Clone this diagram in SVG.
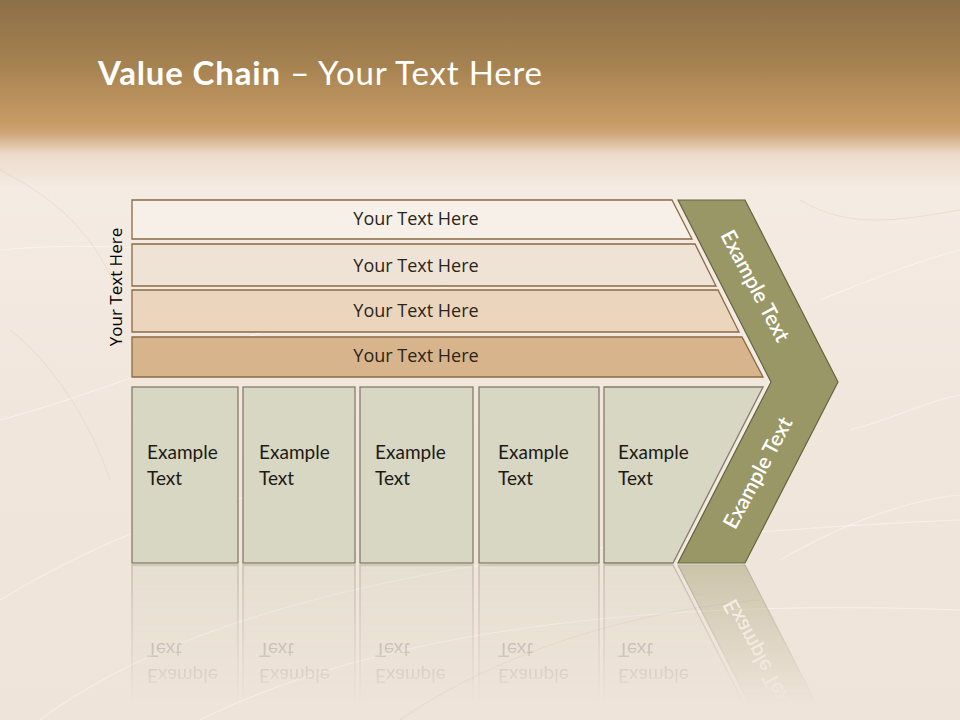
<svg xmlns="http://www.w3.org/2000/svg" width="960" height="720" viewBox="0 0 960 720">
<defs>
<linearGradient id="bg" x1="0" y1="0" x2="0" y2="720" gradientUnits="userSpaceOnUse">
<stop offset="0" stop-color="#8d6f48"/>
<stop offset="0.09" stop-color="#a58251"/>
<stop offset="0.17" stop-color="#c89b64"/>
<stop offset="0.185" stop-color="#cfa677"/>
<stop offset="0.215" stop-color="#ecdccb"/>
<stop offset="0.26" stop-color="#f4ebe2"/>
<stop offset="0.6" stop-color="#f1e6dc"/>
<stop offset="1" stop-color="#efe4da"/>
</linearGradient>
<linearGradient id="fade" x1="0" y1="565" x2="0" y2="705" gradientUnits="userSpaceOnUse">
<stop offset="0" stop-color="#fff" stop-opacity="0.42"/>
<stop offset="1" stop-color="#fff" stop-opacity="0"/>
</linearGradient>
<mask id="reflMask" maskUnits="userSpaceOnUse" x="0" y="560" width="960" height="160">
<rect x="0" y="560" width="960" height="160" fill="url(#fade)"/>
</mask>
<style>
.bar{stroke:#8b6a45;stroke-width:1.3}
.box{fill:#d8d7c3;stroke:#857c6c;stroke-width:1.3}
.chev{fill:#999766;stroke:#66643f;stroke-width:1.2}
.bt{font-family:"Open Sans","DejaVu Sans",sans-serif;font-size:18px;fill:#2b2418;text-anchor:middle}
.xt{font-family:Lato,"Open Sans",sans-serif;font-size:19px;fill:#1c1a12}
.ct{font-family:Lato,"Open Sans",sans-serif;font-size:21px;fill:#ffffff;text-anchor:middle;font-weight:600}
.streak{fill:none;stroke:#ffffff;stroke-opacity:0.45;stroke-width:1}
.streak2{fill:none;stroke:#d9c3b0;stroke-opacity:0.35;stroke-width:1}
</style>
</defs>

<rect x="0" y="0" width="960" height="720" fill="url(#bg)"/>
<g id="background-streaks">
<path class="streak" d="M0 250 C200 230 400 300 700 260"/>
<path class="streak" d="M0 420 C150 380 300 300 500 280"/>
<path class="streak" d="M40 720 C200 600 500 540 960 520"/>
<path class="streak" d="M200 720 C400 620 700 600 960 610"/>
<path class="streak" d="M0 600 C100 540 200 500 330 480"/>
<path class="streak" d="M820 300 C870 280 920 260 960 250"/>
<path class="streak" d="M850 430 C890 420 930 400 960 395"/>
<path class="streak" d="M780 560 C850 520 910 500 960 495"/>
<path class="streak2" d="M0 170 C60 200 100 240 120 300"/>
<path class="streak2" d="M10 330 C50 360 90 420 110 480"/>
<path class="streak2" d="M400 720 C500 650 640 610 760 600"/>
<path class="streak2" d="M800 200 C850 230 900 220 960 210"/>
</g>

<g id="title">
<text x="98" y="85" font-family="Lato,'Open Sans',sans-serif" font-size="33" fill="#ffffff" textLength="444" lengthAdjust="spacing"><tspan font-weight="700">Value Chain</tspan> – Your Text Here</text>
</g>

<g id="side-label">
<text transform="translate(122,287) rotate(-90)" text-anchor="middle" font-family="'Open Sans','DejaVu Sans',sans-serif" font-size="17" fill="#000000">Your Text Here</text>
</g>

<g id="chevron-glow">
<polygon points="674,198 742,198 836,382 742,566 674,566 767,382" fill="#f3ece2" opacity="0.9"/>
</g>

<g id="bar1">
<polygon class="bar" points="132,200 672,200 692,239 132,239" fill="#f6f0e9"/>
<text class="bt" x="416" y="225">Your Text Here</text>
</g>
<g id="bar2">
<polygon class="bar" points="132,244 695,244 716,286 132,286" fill="#efe3d6"/>
<text class="bt" x="416" y="272">Your Text Here</text>
</g>
<g id="bar3">
<polygon class="bar" points="132,290 718,290 739,332 132,332" fill="#ebd6bd"/>
<text class="bt" x="416" y="317">Your Text Here</text>
</g>
<g id="bar4">
<polygon class="bar" points="132,337 742,337 763,377 132,377" fill="#d8b48c"/>
<text class="bt" x="416" y="362">Your Text Here</text>
</g>

<g id="main-row">
<g id="box1">
<rect class="box" x="132" y="387" width="106" height="176"/>
<text class="xt" x="147" y="459">Example</text>
<text class="xt" x="147" y="485">Text</text>
</g>
<g id="box2">
<rect class="box" x="243" y="387" width="112" height="176"/>
<text class="xt" x="259" y="459">Example</text>
<text class="xt" x="259" y="485">Text</text>
</g>
<g id="box3">
<rect class="box" x="360" y="387" width="113" height="176"/>
<text class="xt" x="375" y="459">Example</text>
<text class="xt" x="375" y="485">Text</text>
</g>
<g id="box4">
<rect class="box" x="479" y="387" width="120" height="176"/>
<text class="xt" x="498" y="459">Example</text>
<text class="xt" x="498" y="485">Text</text>
</g>
<g id="box5">
<polygon class="box" points="604,387 763,387 673,563 604,563"/>
<text class="xt" x="618" y="459">Example</text>
<text class="xt" x="618" y="485">Text</text>
</g>
<g id="chevron">
<polygon class="chev" points="678,200 745,200 838,382 745,563 678,563 771,382"/>
<text class="ct" transform="translate(755,286) rotate(62)" y="7">Example Text</text>
<text class="ct" transform="translate(758,473) rotate(-62)" y="7">Example Text</text>
</g>
</g>

<g id="reflection" mask="url(#reflMask)">
<g transform="translate(0,1128) scale(1,-1)">
<use href="#main-row"/>
</g>
</g>

<g id="connectors"></g>
</svg>
